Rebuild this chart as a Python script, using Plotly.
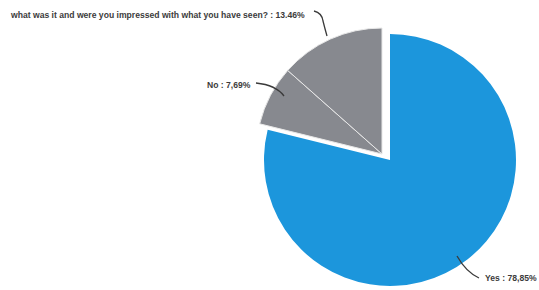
import plotly.graph_objects as go

# ---- data ----
labels = ["Yes", "No", "what was it and were you impressed with what you have seen?"]
values = [78.85, 7.69, 13.46]
label_texts = ["Yes : 78,85%", "No : 7,69%",
               "what was it and were you impressed with what you have seen? : 13.46%"]

W, H = 539, 290
BLUE = "#1c96dc"
GRAY = "#87898f"
CLEAR = "rgba(0,0,0,0)"

def dom_x(a, b):
    return [a / W, b / W]

def dom_y(top, bottom):
    return [(H - bottom) / H, (H - top) / H]

cx, cy, r = 390, 160, 126
dx, dy = -8, -6

fig = go.Figure()
# blue part
fig.add_trace(go.Pie(
    labels=labels, values=values, sort=False, direction="clockwise", rotation=0,
    marker=dict(colors=[BLUE, CLEAR, CLEAR], line=dict(width=0)),
    textinfo="none", hoverinfo="label+percent", showlegend=False,
    domain=dict(x=dom_x(cx - r, cx + r), y=dom_y(cy - r, cy + r)),
))
# pulled-out gray part
fig.add_trace(go.Pie(
    labels=labels, values=values, sort=False, direction="clockwise", rotation=0,
    marker=dict(colors=[CLEAR, GRAY, GRAY], line=dict(width=[0, 1, 1], color="#e8e8e8")),
    textinfo="none", hoverinfo="label+percent", showlegend=False,
    domain=dict(x=dom_x(cx - r + dx, cx + r + dx), y=dom_y(cy - r + dy, cy + r + dy)),
))

def px(x, y):
    return f"{x / W:.5f},{(H - y) / H:.5f}"

paths = [
    f"M{px(314,11)} Q{px(322,13)} {px(323,21)} Q{px(325,29)} {px(327,36)}",
    f"M{px(256,83)} Q{px(276,85)} {px(284,96)}",
    f"M{px(457,256)} Q{px(466,272)} {px(479,278)}",
]
for p in paths:
    fig.add_shape(type="path", path=p, xref="paper", yref="paper",
                  line=dict(color="#3a3a3a", width=1.3))

ann_pos = [(483, 278), (205, 85), (8, 15)]
for t, (x, y) in zip(label_texts, ann_pos):
    fig.add_annotation(text=f"<b>{t}</b>", x=x / W, y=(H - y) / H, xref="paper", yref="paper",
                       xanchor="left", yanchor="middle", showarrow=False,
                       font=dict(family="Liberation Sans, Arial", size=8.6, color="#3c3c3c"))

fig.update_layout(width=W, height=H, margin=dict(l=0, r=0, t=0, b=0),
                  paper_bgcolor="white", plot_bgcolor="white")
fig.write_html("out.html", config={"displayModeBar": False},
               post_script="document.body.style.margin='0';")
